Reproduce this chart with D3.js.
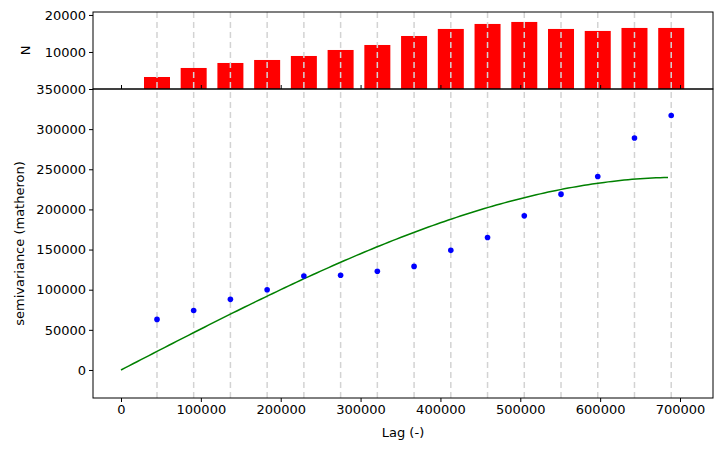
<!DOCTYPE html>
<html><head><meta charset="UTF-8">
<script src="https://d3js.org/d3.v7.min.js"></script>
<style>body{margin:0;background:#fff}text{font-family:"DejaVu Sans",sans-serif;font-size:13px}</style>
</head><body>
<svg width="722" height="450"></svg>
<script>
const lags = [45080, 91000, 137000, 183000, 229000, 275000, 321000, 367000, 413000, 459000, 505000, 551000, 597000, 643000, 689000];
const semivar = [63000, 74000, 88000, 100000, 117000, 118000, 123000, 129000, 149000, 165000, 192000, 219000, 241000, 289000, 317000];
const counts = [3240, 5680, 7030, 7840, 8920, 10540, 11890, 14320, 16220, 17570, 18110, 16220, 15680, 16490, 16490];
const modelRange = 700000, modelSill = 240000, modelNugget = 0;

const svg = d3.select("svg");
const L = 93, R = 713, T1 = 12, B1 = 89, B2 = 398;
const x = d3.scaleLinear().domain([-35060, 741300]).range([L, R]);
const x0 = x(0), x7 = x(700000);
x.domain([-35060 * 121 / 121, 741300]).range([L, R]);
// fit: 0 at 121, 700000 at 680
const k = (680 - 121) / 700000;
x.domain([(L - 121) / k, (R - 121) / k]);
const y = d3.scaleLinear().domain([-34900, 350000]).range([B2, B1]);
const yN = d3.scaleLinear().domain([0, 20800]).range([B1, T1]);

svg.append("g").selectAll("rect").data(lags).join("rect")
  .attr("x", d => x(d) - 13).attr("width", 26)
  .attr("y", (d, i) => yN(counts[i])).attr("height", (d, i) => B1 - yN(counts[i]))
  .attr("fill", "red");

svg.append("g").selectAll("line").data(lags).join("line")
  .attr("x1", d => x(d)).attr("x2", d => x(d)).attr("y1", T1).attr("y2", B2)
  .attr("stroke", "#d3d3d3").attr("stroke-width", 1.5).attr("stroke-dasharray", "6,4");

const sph = h => h >= modelRange ? modelNugget + modelSill :
  modelNugget + modelSill * (1.5 * h / modelRange - 0.5 * Math.pow(h / modelRange, 3));
const hs = d3.range(0, 689001, 5000);
svg.append("path").datum(hs)
  .attr("d", d3.line().x(h => x(h)).y(h => y(sph(h))))
  .attr("fill", "none").attr("stroke", "green").attr("stroke-width", 1.5);

svg.append("g").selectAll("circle").data(lags).join("circle")
  .attr("cx", d => x(d)).attr("cy", (d, i) => y(semivar[i])).attr("r", 2.8)
  .attr("fill", "blue");

svg.append("g").attr("transform", `translate(0,${B2})`)
  .call(d3.axisBottom(x).tickValues(d3.range(0, 700001, 100000)).tickFormat(d3.format("d")).tickSize(4).tickPadding(3));
svg.append("g").attr("transform", `translate(0,${B1})`)
  .call(d3.axisTop(x).tickValues(d3.range(0, 700001, 100000)).tickFormat("").tickSize(4));
svg.append("g").attr("transform", `translate(${L},0)`)
  .call(d3.axisLeft(y).tickValues(d3.range(0, 350001, 50000)).tickFormat(d3.format("d")).tickSize(4).tickPadding(3));
svg.append("g").attr("transform", `translate(${L},0)`)
  .call(d3.axisLeft(yN).tickValues([10000, 20000]).tickFormat(d3.format("d")).tickSize(4).tickPadding(3));
svg.selectAll(".tick text").style("font-size", "13px").style("font-family", "DejaVu Sans").attr("fill", "#000");
svg.selectAll(".domain").remove();
[[T1, B1], [B1, B2]].forEach(([t, b]) => svg.append("rect").attr("x", L).attr("y", t)
  .attr("width", R - L).attr("height", b - t).attr("fill", "none").attr("stroke", "#000"));

svg.append("text").attr("x", (L + R) / 2).attr("y", 437).attr("text-anchor", "middle").text("Lag (-)");
svg.append("text").attr("transform", `translate(24,${(B1 + B2) / 2}) rotate(-90)`).attr("text-anchor", "middle").text("semivariance (matheron)");
svg.append("text").attr("transform", `translate(30,${(T1 + B1) / 2}) rotate(-90)`).attr("text-anchor", "middle").text("N");
</script></body></html>
